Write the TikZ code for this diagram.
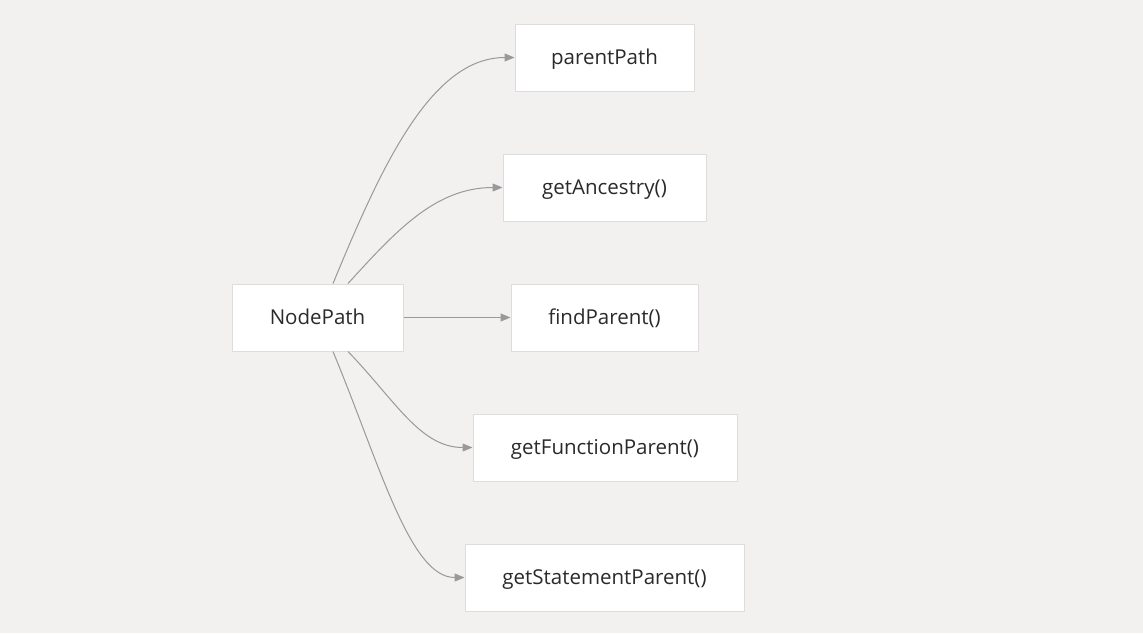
\documentclass[tikz,border=0pt]{standalone}
\usepackage{fontspec}
\setmainfont{Open Sans}
\usetikzlibrary{calc,arrows.meta}
\definecolor{bg}{HTML}{F2F1EF}
\definecolor{bordc}{HTML}{DDDDDD}
\definecolor{linec}{HTML}{999999}
\definecolor{txt}{HTML}{2A2A2A}
\begin{document}
\begin{tikzpicture}[x=1pt,y=-1pt,
  box/.style={draw=bordc,line width=1pt,fill=white,inner sep=0pt,text=txt,text height=15pt,text depth=2pt,font=\fontsize{20.5}{22}\selectfont},
  link/.style={draw=linec,line width=1pt,-{Triangle[length=10pt,width=8pt]}}]
\fill[bg] (0,0) rectangle (1143,633);
\useasboundingbox (0,0) rectangle (1143,633);
\node[box,minimum width=171pt,minimum height=67pt] (np) at (317.5,317.5) {NodePath};
\node[box,minimum width=179pt,minimum height=67pt] (pp) at (604.5,57.5) {parentPath};
\node[box,minimum width=203pt,minimum height=67pt] (ga) at (604.5,187.5) {getAncestry()};
\node[box,minimum width=187pt,minimum height=67pt] (fp) at (604.5,317.5) {findParent()};
\node[box,minimum width=264pt,minimum height=67pt] (gf) at (605,447.5) {getFunctionParent()};
\node[box,minimum width=279pt,minimum height=67pt] (gs) at (604.5,577.5) {getStatementParent()};
\draw[link] ($(np.north)+(15.5,0)$) .. controls (380,170) and (430,57.5) .. (pp.west);
\draw[link] ($(np.north)+(30.5,0)$) .. controls (395,232) and (435,187.5) .. (ga.west);
\draw[link] (np.east) -- (fp.west);
\draw[link] ($(np.south)+(30.5,0)$) .. controls (395,400) and (420,447.5) .. (gf.west);
\draw[link] ($(np.south)+(15.5,0)$) .. controls (380,465) and (410,577.5) .. (gs.west);
\end{tikzpicture}
\end{document}
